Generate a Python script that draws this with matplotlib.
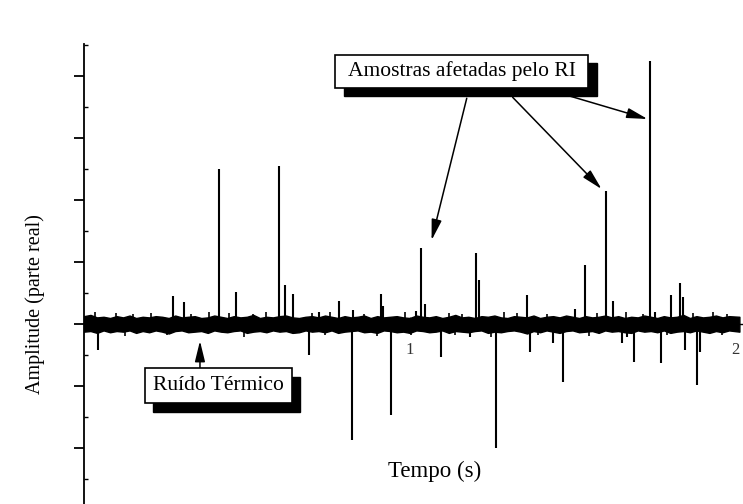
import numpy as np
import matplotlib
matplotlib.use("Agg")
import matplotlib.pyplot as plt
from matplotlib.patches import Rectangle

plt.rcParams['font.family'] = ['Liberation Serif', 'DejaVu Serif']

# Thermal-noise envelope (upper / lower edge of the noise band), every 0.02 s
noise_t_step = 0.02
noise_upper = [0.13, 0.15, 0.11, 0.12, 0.10, 0.13, 0.11, 0.14, 0.10, 0.12,
               0.11, 0.13, 0.12, 0.10, 0.14, 0.11, 0.12, 0.13, 0.10, 0.11,
               0.14, 0.12, 0.10, 0.13, 0.11, 0.12, 0.15, 0.10, 0.12, 0.11,
               0.13, 0.14, 0.11, 0.10, 0.12, 0.13, 0.11, 0.14, 0.12, 0.10,
               0.13, 0.11, 0.12, 0.14, 0.10, 0.13, 0.11, 0.12, 0.13, 0.11,
               0.10, 0.14, 0.12, 0.11, 0.13, 0.10, 0.12, 0.15, 0.11, 0.12,
               0.10, 0.13, 0.12, 0.14, 0.11, 0.10, 0.13, 0.12, 0.11, 0.14,
               0.10, 0.12, 0.13, 0.11, 0.14, 0.12, 0.10, 0.13, 0.11, 0.12,
               0.14, 0.11, 0.13, 0.10, 0.12, 0.11, 0.14, 0.12, 0.10, 0.13,
               0.11, 0.12, 0.15, 0.10, 0.13, 0.11, 0.12, 0.14, 0.11, 0.13,
               0.12]
noise_lower = [-0.12, -0.11, -0.14, -0.10, -0.13, -0.11, -0.12, -0.10, -0.14, -0.11,
               -0.13, -0.10, -0.12, -0.15, -0.11, -0.10, -0.13, -0.12, -0.11, -0.14,
               -0.10, -0.12, -0.13, -0.11, -0.10, -0.14, -0.12, -0.11, -0.13, -0.10,
               -0.12, -0.11, -0.14, -0.13, -0.10, -0.12, -0.11, -0.13, -0.10, -0.14,
               -0.12, -0.11, -0.10, -0.13, -0.12, -0.14, -0.10, -0.11, -0.13, -0.12,
               -0.14, -0.10, -0.11, -0.13, -0.12, -0.10, -0.14, -0.11, -0.12, -0.13,
               -0.11, -0.10, -0.14, -0.12, -0.13, -0.11, -0.10, -0.12, -0.15, -0.11,
               -0.13, -0.10, -0.12, -0.14, -0.11, -0.10, -0.13, -0.12, -0.11, -0.14,
               -0.10, -0.12, -0.11, -0.13, -0.14, -0.10, -0.12, -0.11, -0.13, -0.10,
               -0.14, -0.12, -0.11, -0.13, -0.10, -0.12, -0.14, -0.11, -0.13, -0.10,
               -0.12]

# Small noise peaks poking out of the band
blip_t = [0.034, 0.097, 0.150, 0.205, 0.330, 0.385, 0.445, 0.520, 0.560, 0.700,
          0.755, 0.860, 0.985, 1.120, 1.160, 1.290, 1.330, 1.420, 1.575, 1.665,
          1.715, 1.870, 1.930, 1.975, 0.125, 0.255, 0.490, 0.740, 0.900, 1.005,
          1.140, 1.250, 1.395, 1.550, 1.790, 1.960]
blip_amp = [0.19, 0.18, 0.17, 0.18, 0.17, 0.19, 0.18, 0.17, 0.19, 0.18,
            0.20, 0.17, 0.19, 0.18, 0.17, 0.19, 0.18, 0.17, 0.18, 0.19,
            0.17, 0.18, 0.19, 0.17, -0.19, -0.18, -0.20, -0.18, -0.19, -0.17,
            -0.18, -0.20, -0.18, -0.19, -0.18, -0.17]

# Impulsive-interference samples: time (s) and amplitude (real part)
spike_t = [0.272, 0.308, 0.413, 0.468, 0.600, 0.616, 0.643, 0.721, 0.782, 0.826,
           0.911, 0.918, 1.018, 1.035, 1.048, 1.204, 1.212, 1.360, 1.506, 1.539,
           1.603, 1.624, 1.739, 1.754, 1.803, 1.830, 1.838,
           0.044, 0.691, 0.823, 0.942, 1.097, 1.184, 1.264, 1.368, 1.440, 1.470,
           1.652, 1.666, 1.689, 1.772, 1.845, 1.882, 1.890]
spike_amp = [0.46, 0.36, 2.51, 0.52, 2.56, 0.63, 0.48, 0.20, 0.38, 0.23,
             0.48, 0.29, 0.22, 1.23, 0.33, 1.15, 0.72, 0.47, 0.24, 0.95,
             2.15, 0.37, 4.25, 0.20, 0.47, 0.66, 0.44,
             -0.42, -0.50, -1.87, -1.47, -0.53, -0.20, -2.00, -0.45, -0.31, -0.93,
             -0.31, -0.20, -0.61, -0.63, -0.42, -0.98, -0.45]

x_ticks = [1, 2]
x_tick_labels = ["1", "2"]

W, H, DPI = 743, 504, 100
fig = plt.figure(figsize=(W / DPI, H / DPI), dpi=DPI)
ax = fig.add_axes([84 / W, 0.0, (742 - 84) / W, (504 - 44) / H])
ax.set_xlim(0, 2.02)
ax.set_ylim(-2.90, 4.52)

# noise band
t_noise = np.arange(len(noise_upper)) * noise_t_step
t_noise[-1] = 2.012
ax.fill_between(t_noise, noise_lower, noise_upper, color='black',
                lw=1.0, edgecolor='black', zorder=2)
ax.vlines(blip_t, 0, blip_amp, color='black', lw=1.2, zorder=2)

# spikes
ax.vlines(spike_t, 0, spike_amp, color='black', lw=1.5, zorder=3)

# axes styling
for s in ('top', 'right'):
    ax.spines[s].set_visible(False)
ax.spines['bottom'].set_position(('data', 0))
ax.spines['left'].set_linewidth(1.3)
ax.spines['bottom'].set_linewidth(1.0)

ax.set_yticks(np.arange(-2, 5, 1))
ax.set_yticks(np.arange(-2.5, 4.6, 1), minor=True)
ax.tick_params(axis='y', which='major', direction='out', length=7, width=1.3,
               labelleft=False)
ax.tick_params(axis='y', which='minor', direction='in', length=3, width=1.0)

ax.set_xticks(x_ticks)
ax.set_xticklabels(x_tick_labels)
ax.tick_params(axis='x', which='major', direction='in', length=5, width=1.0,
               pad=13, labelsize=12, colors='#333333')

# axis titles
fig.text(35 / W, 1 - 304 / H, "Amplitude (parte real)", rotation=90,
         ha='center', va='center', fontsize=14.5)
fig.text(435 / W, 1 - 471 / H, "Tempo (s)", ha='center', va='center', fontsize=16.5)


def shadow_box(x0, y0, x1, y1, dx, dy, text, fs):
    """Boxed label with a black drop shadow, in figure pixel coordinates."""
    def r(a, b, c, d, **kw):
        fig.patches.append(Rectangle((a / W, 1 - d / H), (c - a) / W, (d - b) / H,
                                     transform=fig.transFigure, **kw))
    r(x0 + dx, y0 + dy, x1 + dx, y1 + dy, facecolor='black', edgecolor='black',
      zorder=5)
    r(x0, y0, x1, y1, facecolor='white', edgecolor='black', lw=1.2, zorder=6)
    fig.text((x0 + x1) / 2 / W, 1 - (y0 + y1) / 2 / H, text, ha='center',
             va='center', fontsize=fs, zorder=7)


shadow_box(335, 55, 588, 88, 9, 8, "Amostras afetadas pelo RI", 15.5)
shadow_box(145, 368, 292, 403, 8, 9, "Ruído Térmico", 15.5)

arrow_kw = dict(arrowstyle='-|>,head_length=0.9,head_width=0.22', color='black',
                lw=1.1, shrinkA=0, shrinkB=0, mutation_scale=14)
for start, tip in [((1.175, 3.645), (1.067, 1.355)),
                   ((1.316, 3.66), (1.589, 2.18)),
                   ((1.485, 3.69), (1.730, 3.31)),
                   ((0.356, -0.71), (0.356, -0.27))]:
    ax.annotate("", xy=tip, xytext=start, arrowprops=arrow_kw, zorder=4)

fig.savefig("out.png", dpi=DPI)
